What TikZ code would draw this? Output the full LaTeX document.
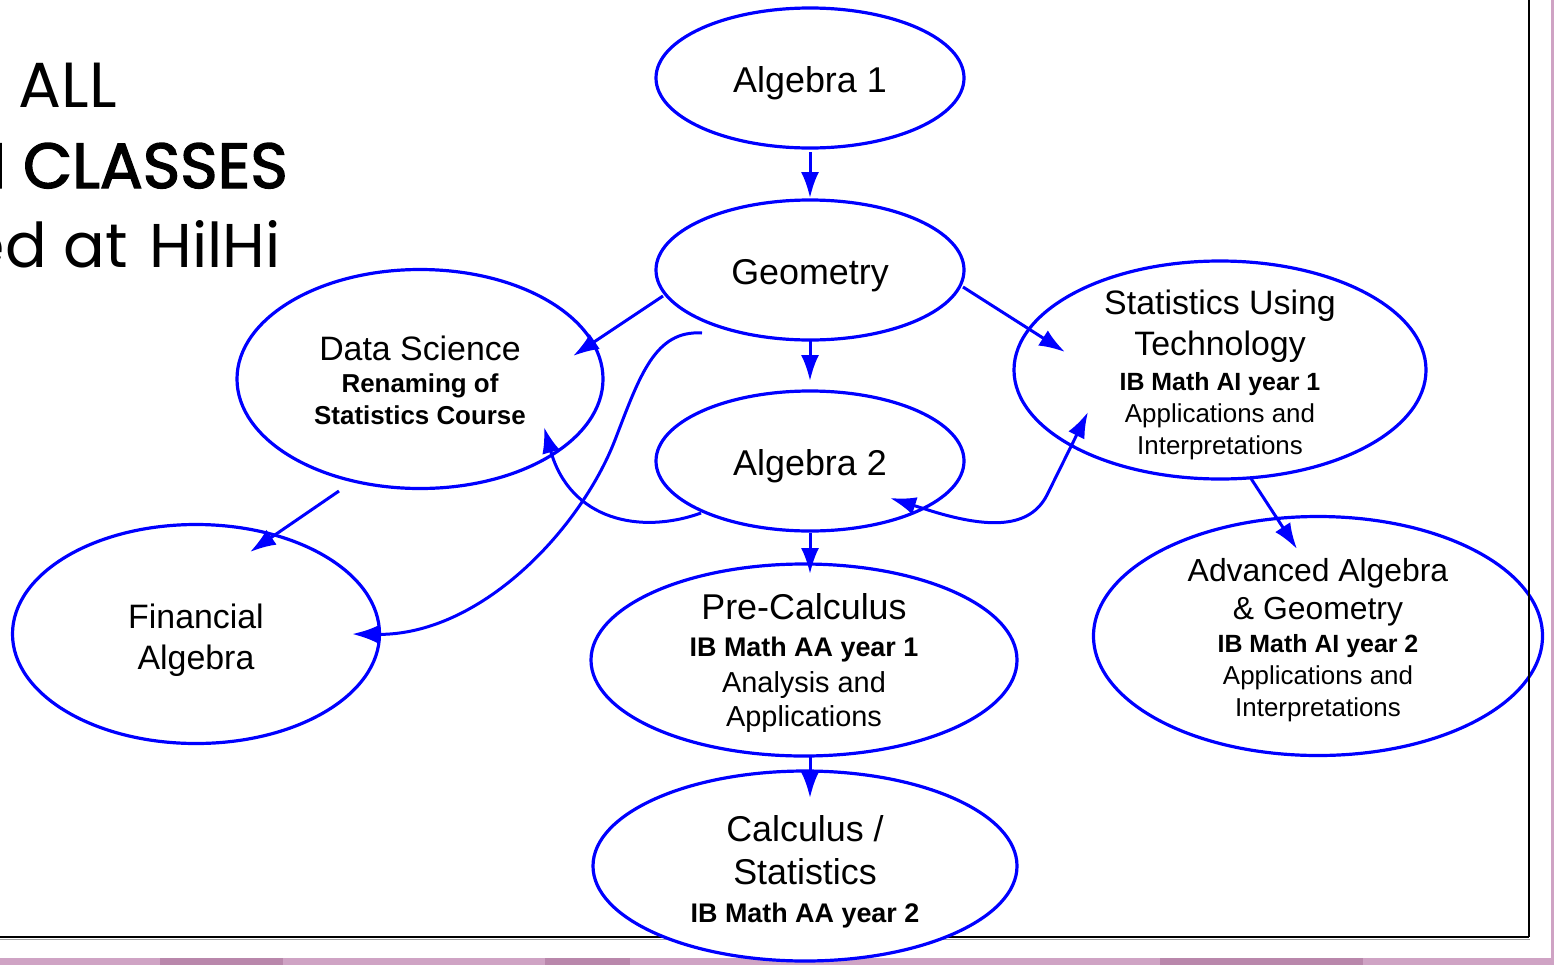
\documentclass[tikz,border=0pt]{standalone}
\usepackage{fontspec}
\setmainfont{Liberation Sans}
\newfontfamily\titleFont{Poppins}
\newfontfamily\titleHeavy[FakeBold=2.2]{Poppins}
\usepackage{xcolor}
\definecolor{flowBlue}{HTML}{0000FF}
\definecolor{frameGray}{HTML}{A0A0A0}
\definecolor{stripPink}{HTML}{CFA3C4}
\definecolor{stripDark}{HTML}{B987AB}
\usetikzlibrary{shapes.geometric,arrows.meta,calc}
\newcommand{\setSize}[2]{\fontsize{#1}{#2}\selectfont}
\newcommand{\topPad}[1]{\rule{0pt}{#1bp}}
\tikzset{%
  courseOval/.style={%
    ellipse,
    draw=flowBlue,
    line width=3.2bp,
    fill=white,
    inner xsep=0pt,
    inner ysep=-40bp,
    align=center
  },
  flowArrow/.style={%
    -{Latex[length=26bp,width=18bp]},
    line width=3bp,
    color=flowBlue
  },
  twoWayArrow/.style={%
    {Latex[length=26bp,width=18bp]}-{Latex[length=26bp,width=18bp]},
    line width=3bp,
    color=flowBlue
  },
  titleLine/.style={%
    anchor=base east,
    inner sep=0pt
  }
}

\begin{document}
\begin{tikzpicture}[x=1bp,y=-1bp]
  \useasboundingbox (0,0) rectangle (1554,965);

  % page edge behind the slide
  \fill[stripPink] (0,958) rectangle (1554,965);
  \fill[stripPink] (1551,0) rectangle (1554,965);
  \fill[stripDark] (160,958) rectangle (283,965);
  \fill[stripDark] (545,958) rectangle (630,965);
  \fill[stripDark] (1160,958) rectangle (1363,965);

  % frame, bottom edge
  \draw[frameGray, line width=1bp] (0,939) -- (1530,939);
  \draw[line width=2bp] (0,936.5) -- (1529,936.5);

  % title, cut off at the left
  \node[titleLine, font=\titleFont\setSize{64}{70}] (titleAll) at (117,107) {ALL};
  \node[titleLine, font=\titleHeavy\setSize{64}{74}] (titleClasses) at (288,188) {H CLASSES};
  \node[titleLine, font=\titleFont\setSize{62}{70}] (titleHilhi) at (281,267) {ed at\hspace{22bp}HilHi};

  % courses
  \node[courseOval, minimum width=308bp, minimum height=140bp, font=\setSize{36}{40}] (alg1) at (810,78) {\topPad{36}Algebra 1};
  \node[courseOval, minimum width=308bp, minimum height=140bp, font=\setSize{36}{40}] (geo) at (810,270) {\topPad{36}Geometry};
  \node[courseOval, minimum width=308bp, minimum height=140bp, font=\setSize{36}{40}] (alg2) at (810,461) {\topPad{36}Algebra 2};
  \node[courseOval, minimum width=366bp, minimum height=219bp, font=\setSize{34}{32}] (dataSci) at (420,379)
    {\topPad{27}Data Science\\{\bfseries\setSize{26}{32}Renaming of}\\{\bfseries\setSize{26}{32}Statistics Course}};
  \node[courseOval, minimum width=367bp, minimum height=219bp, font=\setSize{34}{42}] (finAlg) at (196,634)
    {\topPad{37}Financial\\Algebra};
  \node[courseOval, minimum width=412bp, minimum height=218bp, font=\setSize{34}{32}] (statsTech) at (1220,370)
    {\topPad{34}Statistics Using\\[10bp]Technology\\[3bp]{\bfseries\setSize{25}{32}IB Math AI year 1}\\{\setSize{26}{32}Applications and}\\{\setSize{26}{32}Interpretations}};
  \node[courseOval, minimum width=449bp, minimum height=239bp, font=\setSize{32}{32}] (advAlg) at (1318,636)
    {\topPad{31}Advanced Algebra\\[6bp]\& Geometry\\[1bp]{\bfseries\setSize{25}{32}IB Math AI year 2}\\{\setSize{26}{32}Applications and}\\{\setSize{26}{32}Interpretations}};
  \node[courseOval, minimum width=426bp, minimum height=192bp, font=\setSize{36}{34}] (preCalc) at (804,660)
    {\topPad{32}Pre-Calculus\\[3bp]{\bfseries\setSize{27}{34}IB Math AA year 1}\\[2bp]{\setSize{29}{34}Analysis and}\\{\setSize{29}{34}Applications}};
  \node[courseOval, minimum width=424bp, minimum height=190bp, font=\setSize{36}{38}] (calc) at (805,866)
    {\topPad{38}Calculus /\\[5bp]Statistics\\{\bfseries\setSize{27}{38}IB Math AA year 2}};

  % frame, right edge
  \draw[line width=2bp] (1529,0) -- (1529,936.5);

  % pathways
  \draw[flowArrow] ($(alg1)+(0,74)$) -- ($(geo)+(0,-72)$);
  \draw[flowArrow] ($(geo)+(0,70)$) -- ($(alg2)+(0,-80)$);
  \draw[flowArrow] ($(alg2)+(0,72)$) -- ($(preCalc)+(6,-86)$);
  \draw[flowArrow] ($(preCalc)+(6,97)$) -- ($(calc)+(5,-68)$);
  \draw[flowArrow] ($(geo)+(-147,26)$) -- ($(dataSci)+(153,-23)$);
  \draw[flowArrow] ($(geo)+(153,17)$) -- ($(statsTech)+(-155,-18)$);
  \draw[flowArrow] ($(statsTech)+(30,107)$) -- ($(advAlg)+(-21,-87)$);
  \draw[flowArrow] ($(dataSci)+(-81,112)$) -- ($(finAlg)+(54,-82)$);
  \draw[flowArrow] ($(geo)+(-108,63)$) .. controls (655,330) and (640,375) .. (615,440)
    .. controls (580,530) and (480,636) .. ($(finAlg)+(156,0)$);
  \draw[flowArrow] ($(alg2)+(-109,52)$) .. controls (640,535) and (570,520) .. ($(dataSci)+(124,48)$);
  \draw[twoWayArrow] ($(alg2)+(80,37)$) -- (925,509) .. controls (990,530) and (1030,528) .. (1047,495)
    -- ($(statsTech)+(-132,42)$);
\end{tikzpicture}
\end{document}
